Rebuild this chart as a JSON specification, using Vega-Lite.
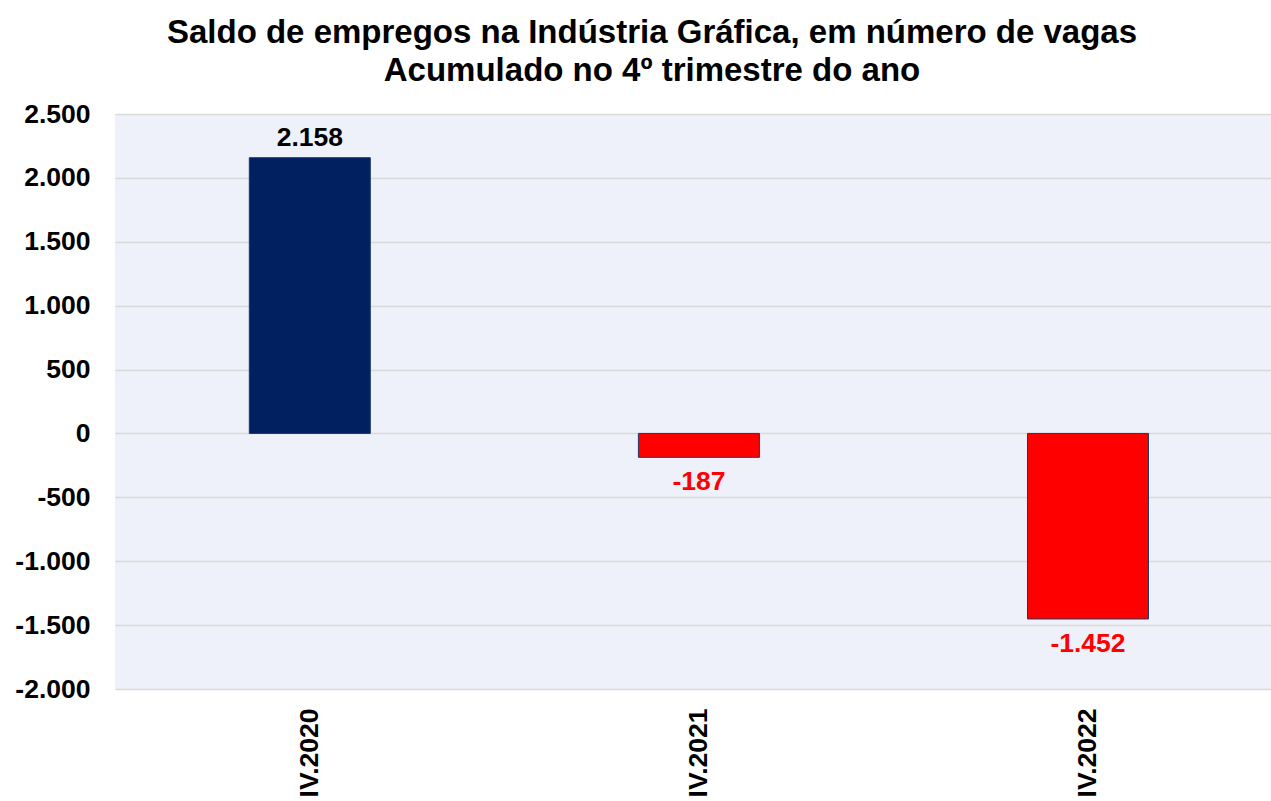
{
  "$schema": "https://vega.github.io/schema/vega-lite/v6.json",
  "autosize": {"type": "none"},
  "padding": {"left": 115, "top": 114, "right": 0, "bottom": 112},
  "width": 1156,
  "height": 575,
  "background": "white",
  "title": {
    "text": ["Saldo de empregos na Indústria Gráfica, em número de vagas", "Acumulado no 4º trimestre do ano"],
    "font": "Liberation Sans",
    "fontSize": 33,
    "fontWeight": "bold",
    "lineHeight": 38,
    "color": "black",
    "anchor": "middle",
    "frame": "group",
    "dx": -41,
    "offset": 13
  },
  "config": {
    "locale": {"number": {"decimal": ",", "thousands": ".", "grouping": [3], "currency": ["R$", ""], "minus": "-"}},
    "view": {"fill": "#EEF1F9", "stroke": null},
    "axis": {"labelFont": "Liberation Sans", "labelFontWeight": "bold", "labelFontSize": 26.5, "labelColor": "black", "ticks": false, "domain": false, "title": null}
  },
  "data": {"values": [
    {"periodo": "IV.2020", "saldo": 2158},
    {"periodo": "IV.2021", "saldo": -187},
    {"periodo": "IV.2022", "saldo": -1452}
  ]},
  "encoding": {
    "x": {"field": "periodo", "type": "nominal", "sort": null,
      "scale": {"paddingInner": 0.689, "paddingOuter": 0.33, "align": 0.523},
      "axis": {"labelAngle": -90, "labelPadding": 19, "grid": false}},
    "y": {"field": "saldo", "type": "quantitative",
      "scale": {"domain": [-2000, 2500], "nice": false, "zero": true},
      "axis": {"values": [-2000, -1500, -1000, -500, 0, 500, 1000, 1500, 2000, 2500], "format": ",d", "labelPadding": 25, "grid": true, "gridColor": "#D9D9D9", "gridWidth": 1.5}}
  },
  "layer": [
    {
      "mark": {"type": "bar", "stroke": "#1F3864", "strokeWidth": 1},
      "encoding": {
        "color": {"condition": {"test": "datum.saldo < 0", "value": "#FF0000"}, "value": "#002060"}
      }
    },
    {
      "transform": [{"filter": "datum.saldo >= 0"}],
      "mark": {"type": "text", "font": "Liberation Sans", "fontWeight": "bold", "fontSize": 26.5, "baseline": "alphabetic", "dy": -12, "color": "black"},
      "encoding": {"text": {"field": "saldo", "type": "quantitative", "format": ",d"}}
    },
    {
      "transform": [{"filter": "datum.saldo < 0"}],
      "mark": {"type": "text", "font": "Liberation Sans", "fontWeight": "bold", "fontSize": 26.5, "baseline": "alphabetic", "dy": 33, "color": "#FF0000"},
      "encoding": {"text": {"field": "saldo", "type": "quantitative", "format": ",d"}}
    }
  ]
}
